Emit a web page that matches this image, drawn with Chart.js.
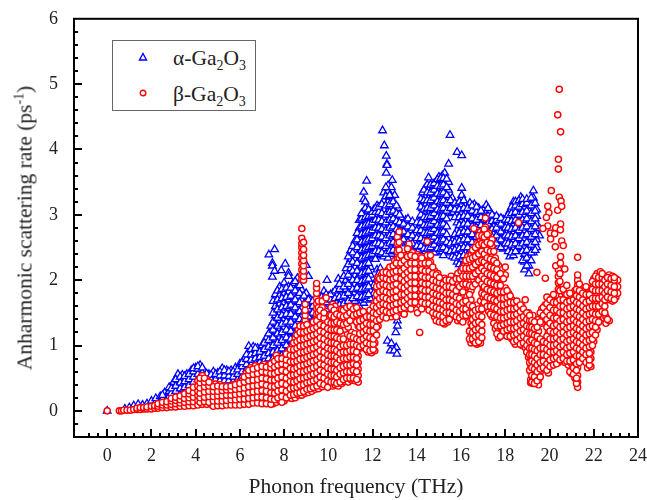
<!DOCTYPE html>
<html>
<head>
<meta charset="utf-8">
<title>Anharmonic scattering rate</title>
<script src="https://cdn.jsdelivr.net/npm/chart.js@4"></script>
<style>
  body { margin: 0; background: #fff; }
  #wrap { position: relative; width: 647px; height: 500px; font-family: "Liberation Serif", serif; color: #222; }
  #ytitle { position: absolute; left: 25px; top: 228px; transform: translate(-50%, -50%) rotate(-90deg); font-size: 21.5px; white-space: nowrap; }
  #ytitle sup { font-size: 14px; line-height: 0; }
  #legend { position: absolute; left: 112px; top: 40px; width: 142px; height: 69px; border: 1px solid #666; background: #fff; font-size: 21.5px; }
  #legend div { position: absolute; left: 60px; white-space: nowrap; }
  #legend sub { font-size: 14px; line-height: 0; }
  #legend svg { position: absolute; left: 24px; width: 12px; height: 12px; }
</style>
</head>
<body>
<div id="wrap">
  <canvas id="chart" width="647" height="500"></canvas>
  <div id="ytitle">Anharmonic scattering rate (ps<sup>-1</sup>)</div>
  <div id="legend">
    <svg style="top:10px" viewBox="0 0 12 12"><path d="M6 2.5 L9.5 9 L2.5 9 Z" fill="#fff" stroke="#0000ff" stroke-width="1.4"/></svg>
    <div style="top:5px">α-Ga<sub>2</sub>O<sub>3</sub></div>
    <svg style="top:46px" viewBox="0 0 12 12"><circle cx="6" cy="6" r="2.8" fill="#fff" stroke="#ff0000" stroke-width="1.4"/></svg>
    <div style="top:41px">β-Ga<sub>2</sub>O<sub>3</sub></div>
  </div>
</div>
<script>
// Data. Each row is [frequency, rate, rate, ...]
const alphaLow = [
  [0,0],[.8,.01,.03],[1,.02,.05],[1.2,.03,.08],[1.4,.04,.1],[1.6,.05,.09],[1.8,.06,.11],[2,.07,.1,.15],
  [2.2,.09,.14,.19],[2.4,.1,.16,.22],[2.6,.13,.2,.28],[2.8,.15,.22,.3,.36],[3,.18,.26,.35,.44],
  [3.2,.2,.3,.38,.47,.56],[3.4,.22,.3,.4,.48,.55],[3.6,.25,.33,.42,.5,.56],[3.8,.3,.38,.46,.54,.62],
  [4,.32,.42,.5,.58,.66],[4.2,.36,.45,.53,.62,.7],[4.4,.38,.46,.53,.6],[4.6,.36,.44,.5,.56],
  [4.8,.36,.44,.52,.6],[5,.34,.42,.5,.58],[5.2,.34,.42,.5,.58,.65],[5.4,.34,.42,.5,.57,.62],
  [5.6,.33,.4,.48,.56,.62],[5.8,.36,.44,.52,.6,.66],[6,.38,.46,.54,.62,.72]
];
const alphaMid = [
  [6.2,.45,.54,.62,.7,.8],[6.4,.5,.6,.7,.8,.9,.99],[6.6,.55,.65,.75,.85,.98],[6.8,.55,.66,.76,.86,.96],
  [7,.6,.7,.8,.9,1],[7.2,.62,.72,.82,.92,1.02,1.12],[7.4,.65,.75,.85,.95,1.1,1.22,1.3],
  [7.31,2.39],[7.57,2.47],[7.47,2.26,2.22,2.05],[7.57,2.14],[7.87,2.15],[8.05,2.25],[8.2,2.11,2.06],
  [7.6,.75,.86,.98,1.1,1.22,1.34,1.46,1.6,1.78],[7.8,.76,.88,1,1.13,1.26,1.38,1.5,1.64,1.77,1.9],
  [8,.8,.92,1.04,1.16,1.28,1.41,1.54,1.66,1.8,1.96],[8.2,.85,.97,1.08,1.2,1.33,1.45,1.57,1.7,1.82,1.9],
  [8.4,.95,1.07,1.2,1.32,1.44,1.56,1.68,1.82,1.95],[8.6,1,1.12,1.25,1.37,1.5,1.63,1.76,1.9,2.03],
  [8.8,1.1,1.22,1.34,1.46,1.58,1.7,1.85],[9,1.15,1.28,1.4,1.53,1.66,1.8,2.23],[9.1,2.06],
  [9.2,1.2,1.32,1.44,1.57,1.7],[9.4,1.22,1.34,1.46,1.56,1.65],[9.6,1.3,1.42,1.54,1.7],
  [9.8,1.3,1.42,1.55,1.68,1.83],[9.94,2],[10,1.35,1.47,1.6,1.75],[10.2,1.4,1.52,1.66,1.8],
  [10.4,1.42,1.54,1.66,1.78,1.88],[10.45,2.02],[10.6,1.45,1.58,1.7,1.84,2],[10.8,1.48,1.6,1.73,1.86,2,2.18],
  [11,1.5,1.63,1.76,1.9,2.04,2.18,2.32,2.45],[11.2,1.55,1.68,1.81,1.94,2.07,2.2,2.33,2.46,2.6]
];
const alphaHigh = [
  [11.4,1.6,1.72,1.85,1.96,2.08,2.2,2.32,2.44,2.56,2.69,2.8,2.92],
  [11.6,1.65,1.78,1.9,2.02,2.14,2.26,2.38,2.5,2.62,2.74,2.86,2.98,3.06,3.24,3.35],
  [11.73,1.7,1.82,1.95,2.07,2.19,2.31,2.43,2.55,2.67,2.79,2.91,3.03,3.12,3.52],
  [11.9,1.72,1.84,1.96,2.08,2.2,2.34,2.46,2.58,2.7,2.82,2.94,3.05],
  [12.05,1.8,1.92,2.36,2.48,2.6,2.72,2.84,2.96,3.08],
  [12.2,1.9,2.02,2.16,2.38,2.5,2.62,2.74,2.86,2.98,3.14],
  [12.35,2.02,2.18,2.4,2.52,2.64,2.76,2.88,3,3.1],
  [12.45,4.29],[12.53,4.06],[12.62,3.9,3.64],[12.65,3.78,3.76],[12.89,3.53],
  [12.5,2.36,2.48,2.6,2.72,2.84,2.96,3.08,3.22,3.34],[12.7,2.34,2.46,2.58,2.7,2.82,2.94,3.06,3.2,3.36,3.45],
  [12.85,2.4,2.52,2.64,2.76,2.88,3,3.12,3.28,3.42],[13,2.44,2.56,2.68,2.8,2.92,3.04,3.16,3.3],
  [13.15,2.5,2.62,2.74,2.86,2.98,3.1],[13.3,2.6,2.72,2.84,2.96],[13.5,2.56,2.68,2.8,2.92],
  [13.7,2.52,2.64,2.76,2.86],[13.9,2.5,2.6,2.72,2.84],[14.1,2.46,2.58,2.7,2.82,2.9],
  [14.25,2.5,2.62,2.74,2.86,2.98,3.1,3.2,3.34],[14.4,2.44,2.56,2.68,2.8,2.92,3.04,3.16,3.28,3.42],
  [14.53,2.42,2.54,2.66,2.78,2.9,3.02,3.14,3.26,3.38,3.57],[14.7,2.44,2.56,2.68,2.8,2.92,3.04,3.16,3.28,3.4],
  [14.85,2.48,2.6,2.72,2.84,2.96,3.08,3.2,3.32,3.44,3.5],[15,2.42,2.54,2.66,2.78,2.9,3.02,3.14,3.26,3.38,3.5,3.58],
  [15.15,2.44,2.56,2.68,2.8,2.92,3.04,3.16,3.28,3.4,3.52,3.6],[15.26,2.5,2.62,2.74,2.86,2.98,3.1,3.22,3.34,3.46,3.64],
  [15.44,2.42,2.54,2.64,3.02,3.14,3.26,3.38,3.5,3.78],[15.5,4.22],[15.6,2.36,2.48,2.6,3.04,3.16,3.26],
  [15.82,2.28,2.4,2.52,2.64,2.76,2.88,3,3.12,3.96],[16.03,2.2,2.32,2.44,2.56,2.68,2.8,2.92,3.04,3.16,3.3,3.41,3.91],
  [16.2,2.3,2.42,2.54,2.66,2.78,2.9,3.02,3.14],[16.4,2.45,2.57,2.69,2.81,2.93,3.05,3.18],
  [16.6,2.7,2.82,2.94,3.06,3.16],[16.8,2.76,2.88,3,3.1],[17,2.9,3.02,3.08],[17.14,2.92,3.04,3.15],
  [17.3,2.62,2.74,2.86,2.98,3.06],[17.5,2.6,2.72,2.84,2.96],[17.7,2.52,2.64,2.76,2.88,2.94],
  [17.9,2.48,2.6,2.72,2.84,2.93],[18.05,2.5,2.62,2.74,2.86,2.96],[18.2,2.36,2.48,2.6,2.72,2.84,2.96,3.06],
  [18.37,2.38,2.5,2.62,2.74,2.86,2.98,3.08,3.2],[18.55,2.48,2.6,2.72,2.84,2.96,3.08,3.18],
  [18.7,2.5,2.62,2.74,2.86,2.98,3.1,3.2,3.27],[18.87,2.16,2.28,2.4,2.52,2.64,2.76,2.88,3,3.12],
  [19.07,2.1,2.22,2.34,2.46,2.58,2.7,2.82,2.94,3.06,3.18],[19.27,2.42,2.54,2.66,2.78,2.9,3.02,3.14,3.26,3.37],
  [19.42,2.5,2.62,2.74,2.86,2.98,3.08],[19.55,2.68,2.79]
];
const alphaBetween = [
  [2.5,.12,.18,.24],[2.9,.2,.27,.34],[3.1,.22,.3,.38,.48],[3.3,.25,.34,.43,.52],[3.5,.27,.36,.45,.53],[3.7,.3,.39,.48,.56],
  [3.9,.36,.44,.52,.6,.65],[4.1,.4,.48,.56,.64,.68],[4.3,.5,.58,.66],[4.5,.44,.5,.57],[4.7,.42,.48,.55],[4.9,.4,.48,.56],
  [5.1,.38,.46,.54,.6],[5.3,.38,.46,.54,.62],[5.5,.38,.46,.53,.6],[5.7,.38,.45,.52,.6],[5.9,.42,.48,.56,.63],
  [6.1,.46,.53,.6,.68,.74],[6.3,.55,.63,.71,.79,.86],[6.5,.62,.7,.78,.86,.94],[6.7,.66,.72,.8,.88,.96],[6.9,.66,.74,.82,.9],
  [7.1,.68,.76,.84,.94,1.04],[7.3,.72,.8,.88,.98,1.08,1.18],[7.5,.8,.9,1,1.12,1.24,1.36,1.5,1.68],
  [7.7,.82,.92,1.04,1.18,1.3,1.42,1.55,1.7,1.84],[7.9,.85,.95,1.08,1.2,1.33,1.46,1.58,1.72,1.86],
  [8.1,.9,1,1.12,1.24,1.36,1.48,1.6,1.74,1.88],[8.3,.98,1.1,1.22,1.36,1.48,1.62,1.76,1.88],[8.5,1.06,1.18,1.3,1.44,1.58,1.7,1.84,1.98],
  [8.7,1.28,1.4,1.52,1.66,1.8,1.92],[8.9,1.4,1.52,1.64,1.76],[9.1,1.44,1.56,1.7],[9.3,1.5,1.6,1.68],[9.5,1.48,1.6,1.66],
  [9.7,1.5,1.62,1.74],[9.9,1.55,1.66,1.78],[10.1,1.6,1.7,1.78],[10.3,1.6,1.72,1.84],[10.5,1.62,1.74,1.86,1.94],
  [10.7,1.64,1.76,1.9,2.06],[10.9,1.68,1.8,1.94,2.08,2.24,2.36],[11.1,1.72,1.86,2,2.14,2.28,2.42,2.52],
  [11.3,1.75,1.88,2,2.14,2.26,2.38,2.5,2.62,2.72],[11.5,1.74,1.86,1.98,2.1,2.22,2.34,2.46,2.58,2.7,2.82,2.94,3.02],
  [11.67,1.76,1.88,2,2.12,2.24,2.36,2.48,2.6,2.72,2.84,2.96,3.1,3.2],[11.82,1.78,1.9,2.02,2.14,2.26,2.38,2.5,2.62,2.74,2.86,2.98,3.08],
  [11.98,2.4,2.52,2.64,2.76,2.88,3,3.04],[12.13,2.32,2.44,2.56,2.68,2.8,2.92,3.04,3.1],[12.28,2.1,2.44,2.56,2.68,2.8,2.92,3.04,3.12],
  [12.42,2.42,2.54,2.66,2.78,2.9,3.02,3.16],[12.6,2.4,2.52,2.64,2.76,2.88,3,3.14,3.28,3.42],[12.77,2.44,2.56,2.68,2.8,2.92,3.04,3.16,3.3],
  [12.93,2.46,2.58,2.7,2.82,2.94,3.06,3.2],[13.08,2.54,2.66,2.78,2.9,3.02,3.14],[13.22,2.64,2.76,2.88,3],[13.4,2.62,2.74,2.86],
  [13.6,2.58,2.7,2.82,2.94],[13.8,2.56,2.68,2.8,2.9],[14,2.52,2.64,2.76,2.88],[14.18,2.52,2.64,2.76,2.88,3,3.12,3.24],
  [14.32,2.48,2.6,2.72,2.84,2.96,3.08,3.22,3.38],[14.47,2.48,2.6,2.72,2.84,2.96,3.1,3.22,3.34,3.46],[14.62,2.5,2.62,2.74,2.86,2.98,3.1,3.22,3.34,3.46],
  [14.78,2.42,2.54,2.66,2.78,2.9,3.02,3.14,3.26,3.38,3.48],[14.93,2.48,2.6,2.72,2.84,2.96,3.08,3.2,3.32,3.44,3.54],
  [15.08,2.48,2.6,2.72,2.84,2.96,3.08,3.2,3.32,3.44,3.56],[15.2,2.38,2.5,2.62,2.74,2.86,2.98,3.1,3.22,3.34,3.46,3.56],
  [15.35,2.46,2.58,2.7,2.82,2.94,3.06,3.18,3.3,3.42,3.55],[15.52,2.44,2.56,3.1,3.22],[15.72,2.34,2.46,2.58,2.7,2.96,3.08,3.18],
  [15.92,2.24,2.36,2.48,2.6,2.72,2.84,2.96,3.08,3.2],[16.12,2.26,2.38,2.5,2.62,2.74,2.86,2.98,3.1,3.22],
  [16.3,2.38,2.5,2.62,2.74,2.86,2.98,3.1],[16.5,2.58,2.7,2.82,2.94,3.06,3.14],[16.7,2.66,2.8,2.92,3.04,3.12],[16.9,2.84,2.96,3.06],
  [17.22,2.74,2.86,2.98,3.1],[17.4,2.66,2.78,2.9,3],[17.6,2.56,2.68,2.8,2.92,2.98],[17.8,2.5,2.62,2.74,2.86,2.95],
  [18,2.56,2.68,2.8,2.92],[18.13,2.44,2.56,2.68,2.8,2.92,3],[18.28,2.42,2.54,2.66,2.78,2.9,3.02,3.12],[18.46,2.44,2.56,2.68,2.8,2.92,3.04,3.14,3.2],
  [18.62,2.52,2.64,2.76,2.88,3,3.12,3.22],[18.78,2.3,2.44,2.56,2.68,2.8,2.92,3.04,3.16,3.24],[18.97,2.22,2.34,2.46,2.58,2.7,2.82,2.94,3.06,3.18,3.24],
  [19.17,2.3,2.42,2.54,2.66,2.78,2.9,3.02,3.14,3.26],[19.35,2.46,2.58,2.7,2.82,2.94,3.06,3.18]
];
const alphaIsland = [
  [13.07,1.45,.97],[13.12,1.38,1.3],[13.05,1.2],[12.67,1.07],[12.85,1.03],[12.8,.92],[12.97,.92],[13.1,.87]
];
const betaLow = [
  [0,0],[.55,0],[.65,0],[.75,.01],[.9,.01],[1.05,.01],[1.2,.02],[1.35,.02,.04],[1.5,.02,.05],[1.65,.03,.05],
  [1.8,.03,.06],[2,.03,.07],[2.15,.04,.08],[2.3,.04,.07,.11],[2.5,.05,.09,.13],[2.7,.05,.09,.14],
  [2.9,.06,.1,.15,.19],[3.1,.06,.11,.16,.21],[3.3,.07,.12,.17,.23],[3.5,.07,.13,.19,.26],[3.7,.08,.14,.2,.26,.31],
  [3.9,.08,.14,.21,.28,.36],[4.1,.09,.16,.23,.3,.38,.46],[4.3,.1,.17,.24,.32,.4,.47,.54],[4.5,.1,.17,.25,.33,.41,.48],
  [4.7,.1,.18,.26,.33,.42],[4.9,.11,.18,.26,.34,.41],[5.1,.11,.19,.27,.35,.4],[5.3,.11,.19,.27,.34,.38],
  [5.5,.12,.2,.28,.36],[5.7,.12,.2,.28,.36,.4],[5.9,.13,.21,.29,.37,.43],[6.1,.14,.22,.3,.38,.46],
  [6.3,.14,.23,.32,.41,.5,.58],[6.5,.15,.24,.33,.42,.51,.6,.66],[6.7,.16,.25,.34,.43,.52,.61,.69],
  [6.9,.17,.26,.35,.44,.53,.62,.68],[7.1,.16,.26,.36,.46,.56,.65,.71],[7.3,.14,.24,.34,.44,.54,.64,.7],
  [7.5,.11,.2,.3,.4,.5,.6,.7,.74],[7.65,.13,.23,.33,.43,.53,.63,.72,.85,.78],[7.8,.16,.26,.36,.46,.56,.66,.74]
];
const betaMid = [
  [8,.15,.25,.35,.45,.55,.65,.75,.82],[8.2,.2,.3,.4,.5,.6,.7,.8,.9],[8.35,.19,.29,.39,.49,.59,.69,.79,.89,.98],
  [8.5,.2,.3,.4,.5,.6,.7,.8,.9,1,1.1],[8.65,.24,.34,.44,.54,.64,.74,.84,.94,1.04,1.14,1.24],
  [8.8,.24,.34,.44,.54,.64,.74,.84,.94,1.04,1.14,1.26,2.01,2.08,2.16,2.25,2.34,2.42,2.5,2.56,2.64,2.79],
  [8.88,2,2.06,2.14,2.22,2.3,2.38,2.47,2.58],[8.95,.27,.37,.47,.57,.67,.77,.87,.97,1.07,1.17,1.27,1.38,1.46,1.54,1.63],
  [9.1,.28,.38,.48,.58,.68,.78,.88,.98,1.08,1.18,1.28],[9.25,.3,.4,.5,.6,.7,.8,.9,1,1.1,1.2,1.3],
  [9.4,.33,.43,.53,.63,.73,.83,.93,1.03,1.13,1.23,1.33],[9.47,1.4,1.48,1.56,1.64,1.72,1.8,1.88,1.95],
  [9.55,.34,.44,.54,.64,.74,.84,.94,1.04,1.14,1.24,1.34,1.42,1.5,1.58,1.68],[9.72,.37,.47,.57,.67,.77,.87,.97,1.07,1.17,1.27,1.37,1.47,1.58,1.68],
  [9.9,.42,.52,.62,.72,.82,.92,1.02,1.12,1.22,1.3,1.73],[10.05,.4,.5,.6,.7,.8,.9,1,1.1,1.2,1.3,1.42],
  [10.2,.38,.48,.58,.68,.78,.88,.98,1.08,1.18,1.28,1.38,1.48,1.56,1.63],[10.3,.4,.5,.6,.7,.8,.9,1,1.1,1.2,1.3,1.4,1.5,1.6],
  [10.45,.38,.48,.58,.68,.78,.88,.98,1.08,1.18,1.3,1.42,1.54],[10.6,.42,.52,.62,.72,.84,.94,1.04,1.16,1.28,1.4,1.55],
  [10.75,.45,.55,.65,.75,.85,.95,1.05,1.25,1.38,1.5],[10.9,.44,.54,.64,.74,.84,.94,1.06,1.28,1.4,1.53],
  [11.05,.47,.57,.67,.77,.87,.97,1.08,1.2,1.44,1.58],[11.2,.46,.56,.66,.76,.86,.96,1.06,1.18,1.4,1.53],
  [11.35,.44,.54,.64,.74,.84,.94,1.04,1.3,1.44,1.54],[11.5,1.02,1.12,1.22,1.32,1.42,1.5],
  [11.65,.96,1.06,1.16,1.26,1.36,1.46],[11.8,.9,1,1.1,1.2,1.3,1.4,1.5],[11.95,.89,.98,1.08,1.18,1.28,1.38,1.52],
  [12.1,.92,1.04,1.14,1.24,1.34,1.46,1.56,1.66],[12.25,1.3,1.42,1.52,1.62,1.72,1.84,1.95,2.04]
];
const betaHigh = [
  [12.4,1.48,1.58,1.68,1.78,1.88,1.98,2.08],[12.55,1.5,1.6,1.7,1.8,1.9,2,2.1],[12.7,1.46,1.56,1.66,1.76,1.86,1.96,2.06,2.16],
  [12.85,1.44,1.54,1.64,1.74,1.84,1.94,2.04,2.14],[13,1.48,1.58,1.68,1.78,1.88,1.98,2.08,2.18,2.3],
  [13.12,1.5,1.6,1.7,1.8,1.9,2,2.1,2.2,2.32,2.44,2.56,2.66],[13.2,1.5,1.62,1.74,1.86,1.98,2.1,2.22,2.34,2.46,2.58,2.74],
  [13.35,1.52,1.62,1.72,1.82,1.92,2.02,2.12,2.22,2.32],[13.5,1.56,1.66,1.76,1.86,1.96,2.06,2.16,2.28,2.38],
  [13.65,1.6,1.7,1.8,1.9,2,2.1,2.2,2.32,2.44,2.55],[13.8,1.62,1.72,1.82,1.92,2.02,2.12,2.22,2.32,2.42],
  [14.03,1.5,1.68,1.78,1.88,1.98,2.08,2.18,2.28,2.39],[14.13,1.2,1.62,1.74,1.84,1.94,2.04,2.14,2.24,2.36],
  [14.3,1.6,1.7,1.8,1.9,2,2.1,2.2,2.3],[14.47,1.6,1.7,1.8,1.9,2,2.1,2.2,2.38,2.59],
  [14.62,1.56,1.66,1.76,1.86,1.96,2.06,2.16,2.28,2.38],[14.8,1.44,1.54,1.64,1.74,1.84,1.94,2.04,2.14],
  [14.95,1.42,1.52,1.62,1.72,1.82,1.92,2,2.1],[15.1,1.38,1.48,1.58,1.68,1.78,1.88,1.98],
  [15.25,1.33,1.43,1.53,1.63,1.73,1.83,1.93,2.03],[15.4,1.36,1.46,1.56,1.66,1.76,1.86,1.96],
  [15.55,1.44,1.54,1.64,1.74,1.84,1.94,2.06],[15.7,1.5,1.6,1.7,1.8,1.9,2],[15.85,1.38,1.48,1.58,1.7,1.84,1.96,2.1],
  [16,1.38,1.48,1.58,1.76,1.88,2,2.14],[16.15,1.42,1.52,1.62,1.88,2,2.12,2.22],[16.3,1.56,1.66,1.9,2,2.12,2.24,2.36],
  [16.45,1.04,1.14,1.24,1.34,1.44,1.54,1.7,1.84,2,2.12,2.26,2.38],[16.58,1.06,1.16,1.26,1.36,1.46,1.56,2,2.14,2.28,2.42,2.79],
  [16.72,1.02,1.12,1.22,1.32,1.42,1.52,1.62,2.04,2.16,2.3,2.42,2.56],[16.88,1.04,1.14,1.24,1.34,1.44,1.54,1.68,1.98,2.1,2.24,2.36,2.5,2.6,2.74],
  [17,1.62,1.74,1.88,2,2.12,2.24,2.36,2.5,2.62,2.72],[17.1,1.7,1.82,1.94,2.06,2.18,2.3,2.42,2.56,2.68,2.81,2.95],
  [17.25,1.52,1.64,1.76,1.88,2,2.12,2.24,2.36,2.48,2.6,2.72],[17.4,1.44,1.56,1.68,1.8,1.92,2.04,2.16,2.28,2.4,2.52,2.62],
  [17.55,1.26,1.38,1.5,1.62,1.74,1.86,1.98,2.1,2.22,2.34],[17.7,1.12,1.24,1.36,1.48,1.6,1.72,1.84,2.03,2.12,2.22],
  [17.85,1.16,1.26,1.36,1.46,1.56,1.66,1.76,1.86,2.06,2.16],[18,1.18,1.28,1.38,1.48,1.58,1.68,1.78,1.88,2.08,2.2],
  [18.15,1.2,1.3,1.4,1.5,1.6,1.7,1.8],[18.3,1.1,1.2,1.3,1.4,1.5,1.6,1.7],[18.45,1.02,1.12,1.22,1.32,1.42,1.52,1.62],
  [18.6,1.06,1.16,1.26,1.36,1.46,1.56],[18.75,1,1.1,1.2,1.3,1.4,1.52,1.6],[18.9,.97,1.07,1.17,1.27,1.37,1.47,1.7],
  [19.05,.82,.92,1.02,1.12,1.22,1.32,1.42,1.5],[19.15,.43,.48,.6,.7,.82,.92,1.04,1.14,1.24,1.34],
  [19.25,.42,.5,.6,.7,.8,.9,1,1.1,1.2,1.3,1.46],[19.38,.45,.55,.65,.75,.85,.95,1.05,1.15,1.25,1.35],
  [19.5,.4,.48,.58,.68,.78,.88,.98,1.1,1.22,1.4],[19.65,.62,.72,.82,.92,1.02,1.34,1.46,1.56],
  [19.8,.68,.78,.88,.98,1.08,1.42,1.52,1.62],[19.95,.58,.68,.78,.88,.98,1.08,1.2,1.32,1.44,1.56,1.68],
  [20.1,.72,.82,.92,1.02,1.12,1.24,1.36,1.48,1.6,1.72],[20.25,.76,.86,.96,1.06,1.16,1.26,1.38,1.5,1.62,1.76],
  [20.4,.74,.84,.94,1.04,1.14,1.24,1.34,1.46,1.56,1.66,1.76,1.86,1.96,2.06,2.16],
  [20.55,.84,.94,1.04,1.14,1.24,1.34,1.44,1.54,1.64,1.76],[20.7,.74,.88,.98,1.08,1.18,1.28,1.38,1.48,1.58,1.68,1.8],
  [20.85,.7,.8,.9,1,1.1,1.2,1.3,1.4,1.5,1.6,1.72],[21,.57,.72,.84,.94,1.04,1.14,1.24,1.34,1.44,1.54,1.64,1.74],
  [21.15,.5,.6,.7,.82,.92,1.02,1.12,1.22,1.32,1.42,1.52,1.62,1.72,1.84],
  [21.27,.36,.44,.54,.66,.76,.9,1,1.1,1.2,1.3,1.4,1.5,1.6,1.7,1.82,1.92,2,2.08],
  [21.42,.78,.88,.98,1.08,1.18,1.28,1.38,1.48,1.58,1.68,1.78,1.88],[21.57,.82,.92,1.02,1.12,1.22,1.32,1.42,1.52,1.62,1.72,1.84],
  [21.72,.66,.74,.84,.94,1.04,1.14,1.24,1.34,1.44,1.54,1.64,1.76,1.88],[21.87,.68,.8,.9,1,1.1,1.2,1.3,1.4,1.5,1.6,1.7,1.82],
  [22,1.06,1.16,1.26,1.36,1.46,1.56,1.66,1.78,1.92,2.02],[22.15,1.24,1.34,1.44,1.54,1.66,1.78,1.88,1.98,2.1],
  [22.3,1.46,1.56,1.68,1.8,1.9,2,2.13],[22.45,1.42,1.52,1.64,1.76,1.86,1.96,2.06],[22.55,1.34,1.44,1.72,1.82,1.92,2.02],
  [22.7,1.38,1.7,1.8,1.9,2,2.08],[22.85,1.68,1.78,1.88,1.98,2.06],[23,1.74,1.84,1.94,2.02],[23.08,1.8,1.9,2]
];
const betaBetween = [
  [4.2,.13,.2,.27,.35,.43,.5],[4.4,.14,.21,.29,.37,.44,.5],[4.6,.13,.22,.3,.38,.44],[4.8,.07,.15,.22,.3,.37],[5,.08,.15,.23,.3,.38],
  [5.2,.08,.15,.23,.31,.37],[5.4,.09,.16,.24,.32,.37],[5.6,.09,.17,.24,.32,.38],[5.8,.09,.17,.25,.33,.4],[6,.09,.18,.26,.34,.42],
  [6.2,.1,.18,.27,.35,.44,.52],[6.4,.1,.19,.28,.37,.46,.55,.62],[6.6,.12,.2,.29,.38,.47,.56,.64],[6.8,.12,.21,.3,.39,.48,.57,.66],
  [7,.11,.21,.31,.41,.5,.6,.68],[7.2,.11,.2,.3,.39,.49,.59,.67],[7.4,.1,.18,.28,.37,.47,.57,.66,.72],[7.57,.17,.27,.37,.47,.57,.67,.76],
  [7.72,.2,.3,.4,.5,.6,.7,.8],[7.9,.13,.22,.32,.42,.52,.62,.72,.8],[8.1,.2,.3,.4,.5,.6,.7,.78,.87],[8.28,.24,.34,.45,.54,.65,.75,.85,.94],
  [8.43,.25,.35,.44,.55,.64,.75,.84,.94,1.04],[8.58,.27,.36,.46,.56,.66,.76,.86,.96,1.06,1.16],[8.72,.28,.39,.49,.6,.69,.79,.89,.99,1.09,1.2,1.3],
  [8.88,.3,.4,.5,.6,.7,.8,.9,1,1.1,1.2,1.3],[9.03,.33,.43,.52,.62,.72,.82,.92,1.02,1.12,1.22,1.32],[9.18,.34,.44,.54,.64,.74,.84,.94,1.04,1.14,1.24],
  [9.32,.36,.46,.56,.66,.76,.86,.96,1.06,1.16,1.26,1.36],[9.48,.38,.48,.58,.68,.78,.88,.98,1.08,1.18,1.28,1.38],[9.63,.42,.52,.62,.72,.82,.92,1.02,1.12,1.22,1.32,1.44,1.54],
  [9.8,.4,.5,.6,.7,.8,.9,1,1.1,1.2,1.3,1.42,1.5],[9.97,.36,.46,.56,.66,.76,.86,.96,1.06,1.16,1.26,1.36],[10.12,.44,.54,.64,.74,.84,.94,1.04,1.14,1.24,1.34,1.46,1.58],
  [10.26,.44,.54,.64,.74,.84,.94,1.04,1.14,1.24,1.34,1.44,1.54],[10.38,.42,.52,.62,.72,.82,.92,1.02,1.12,1.24,1.36,1.48],[10.53,.44,.56,.66,.78,.88,.98,1.1,1.22,1.34,1.46],
  [10.68,.48,.58,.68,.8,.9,1,1.1,1.32,1.44,1.54],[10.83,.5,.6,.7,.8,.9,1,1.34,1.46,1.58],[10.98,.5,.6,.7,.82,.92,1.02,1.14,1.38,1.5,1.6],
  [11.13,.5,.62,.72,.82,.92,1.02,1.12,1.46,1.56],[11.28,.48,.6,.7,.8,.9,1,1.1,1.36,1.48,1.58],[11.42,.98,1.08,1.18,1.28,1.38,1.5],
  [11.58,1,1.1,1.2,1.3,1.4,1.52],[11.72,.94,1.04,1.14,1.24,1.34,1.44],[11.88,.92,1.02,1.12,1.22,1.32,1.44,1.54],[12.03,.94,1.02,1.1,1.22,1.32,1.42,1.5,1.6],
  [12.18,1.16,1.28,1.38,1.48,1.58,1.68,1.78,1.9],[12.32,1.4,1.52,1.62,1.72,1.82,1.92,2.02],[12.47,1.44,1.54,1.64,1.74,1.84,1.94,2.04,2.12],
  [12.62,1.42,1.52,1.62,1.72,1.82,1.92,2.02,2.12],[12.78,1.5,1.6,1.7,1.8,1.9,2,2.1,2.2],[12.93,1.52,1.62,1.72,1.82,1.92,2.02,2.12,2.22],
  [13.07,1.44,1.54,1.64,1.74,1.84,1.94,2.04,2.14,2.26],[13.28,1.56,1.66,1.78,1.9,2.02,2.14,2.26,2.38],[13.43,1.48,1.58,1.68,1.78,1.88,1.98,2.08,2.18,2.3],
  [13.58,1.62,1.72,1.82,1.92,2.02,2.12,2.24,2.36,2.48],[13.73,1.56,1.66,1.76,1.86,1.96,2.06,2.16,2.26,2.38],[13.92,1.66,1.76,1.86,1.96,2.06,2.16,2.26,2.36],
  [14.22,1.56,1.66,1.76,1.86,1.96,2.06,2.16,2.26,2.34],[14.38,1.64,1.74,1.84,1.94,2.04,2.14,2.26],[14.55,1.54,1.64,1.74,1.84,1.94,2.04,2.14,2.26],
  [14.72,1.5,1.6,1.7,1.8,1.9,2,2.1,2.2],[14.88,1.38,1.48,1.58,1.68,1.78,1.88,1.98,2.08],[15.02,1.36,1.46,1.56,1.66,1.76,1.86,1.96,2.04],
  [15.18,1.35,1.44,1.54,1.64,1.74,1.84,1.94],[15.32,1.38,1.5,1.6,1.7,1.8,1.9,2],[15.47,1.4,1.5,1.6,1.7,1.8,1.9,2],
  [15.62,1.48,1.58,1.68,1.78,1.88,1.98],[15.78,1.44,1.54,1.64,1.74,1.84,2.02],[15.93,1.42,1.52,1.62,1.72,1.9,2.02],
  [16.08,1.36,1.46,1.56,1.66,1.82,1.94,2.06,2.18],[16.22,1.46,1.56,1.68,1.94,2.06,2.18,2.3],[16.38,1.1,1.22,1.5,1.62,1.78,1.92,2.06,2.18,2.32],
  [16.52,1.1,1.2,1.3,1.4,1.5,1.6,1.9,2.06,2.2,2.34,2.46],[16.65,1.04,1.14,1.24,1.34,1.44,1.54,1.94,2.1,2.24,2.36,2.5],[16.8,1.06,1.16,1.26,1.36,1.46,1.56,2,2.14,2.28,2.4,2.54,2.68],
  [16.94,1.12,1.22,1.32,1.44,1.56,1.8,1.94,2.06,2.18,2.3,2.44,2.56,2.68],[17.05,1.66,1.78,1.9,2.02,2.14,2.28,2.4,2.54,2.66,2.78],[17.18,1.6,1.74,1.86,1.98,2.1,2.22,2.34,2.46,2.58,2.7],
  [17.33,1.48,1.6,1.72,1.84,1.96,2.08,2.2,2.32,2.44,2.56],[17.48,1.34,1.46,1.58,1.7,1.82,1.94,2.06,2.18,2.3,2.44],[17.62,1.18,1.3,1.44,1.56,1.68,1.8,1.92,2.04,2.16,2.26],
  [17.78,1.14,1.3,1.42,1.52,1.62,1.72,1.82,1.92,2.1],[17.92,1.22,1.32,1.42,1.52,1.62,1.72,1.82,2.02],[18.08,1.14,1.24,1.34,1.44,1.54,1.64,1.74,1.84],
  [18.22,1.14,1.26,1.36,1.46,1.56,1.66,1.76],[18.38,1.06,1.16,1.26,1.36,1.46,1.56,1.66],[18.52,1.08,1.18,1.28,1.38,1.48,1.58,1.68],
  [18.68,1.02,1.12,1.22,1.32,1.42,1.52,1.62],[18.82,1.04,1.14,1.24,1.34,1.44,1.56],[18.97,.9,1,1.1,1.2,1.3,1.4,1.5],
  [19.1,.62,.74,.86,.96,1.06,1.18,1.28,1.38,1.46],[19.2,.44,.54,.66,.76,.86,.96,1.08,1.18,1.28,1.38],[19.32,.42,.52,.64,.74,.84,.94,1.04,1.16,1.26,1.36],
  [19.44,.46,.6,.7,.8,.92,1.02,1.14,1.28],[19.58,.52,.64,.74,.86,.96,1.1,1.36,1.5],[19.72,.66,.76,.86,.96,1.06,1.46,1.58],
  [19.88,.62,.72,.84,.94,1.04,1.14,1.28,1.4,1.52,1.64,1.74],[20.02,.68,.78,.9,1,1.1,1.22,1.34,1.46,1.58,1.7],[20.18,.7,.8,.9,1,1.1,1.2,1.3,1.42,1.54,1.66,1.78],
  [20.32,.72,.82,.92,1.02,1.12,1.22,1.32,1.42,1.54,1.66],[20.47,.78,.88,.98,1.08,1.18,1.28,1.38,1.5,1.6,1.7,1.84,1.98,2.1],[20.62,.8,.9,1,1.1,1.2,1.3,1.4,1.5,1.6,1.7,1.86],
  [20.78,.76,.86,.96,1.06,1.16,1.26,1.36,1.46,1.56,1.66,1.78,1.92],[20.92,.6,.76,.88,.98,1.08,1.18,1.28,1.38,1.48,1.58,1.68,1.8],[21.08,.56,.66,.78,.9,1,1.1,1.2,1.3,1.4,1.5,1.6,1.7],
  [21.22,.42,.5,.62,.72,.84,.96,1.06,1.16,1.26,1.36,1.46,1.56,1.66,1.76,1.86],[21.35,.74,.84,.94,1.04,1.14,1.24,1.34,1.44,1.54,1.64,1.74,1.84,1.94],[21.5,.8,.9,1,1.1,1.2,1.3,1.4,1.5,1.6,1.7,1.8],
  [21.65,.74,.86,.96,1.06,1.16,1.26,1.36,1.46,1.56,1.66,1.78,1.9],[21.8,.7,.78,.88,.98,1.08,1.18,1.28,1.38,1.48,1.58,1.68,1.78],[21.94,1,1.1,1.2,1.3,1.4,1.5,1.6,1.72,1.86,1.98],
  [22.08,1.16,1.28,1.38,1.48,1.6,1.72,1.84,1.94,2.06],[22.22,1.36,1.48,1.6,1.72,1.84,1.94,2.04],[22.38,1.52,1.64,1.74,1.84,1.94,2.04,2.1],
  [22.5,1.5,1.6,1.7,1.8,1.9,2],[22.62,1.4,1.74,1.84,1.94,2.04],[22.78,1.72,1.82,1.92,2.02],[22.93,1.7,1.8,1.9,2,2.04]
];
const betaSpike = [
  [20.44,4.92,3.27],[20.37,4.53,3.07],[20.5,4.27,2.86,2.36],[20.4,3.85,3.7],[20.08,3.37],[20.52,3.21],[19.92,3.13,2.83],
  [20.55,3.13,2.6],[19.97,3.03],[19.86,2.96],[19.7,2.79],[20.28,2.8,2.22],[20.49,2.77,2.26],[20.04,2.72],[20.23,2.71],
  [20.05,2.63],[20.62,2.53],[20.26,2.51],[21.27,2.35],[20.69,2.17],[19.43,2.12],[19.81,2.03],[18.6,2.88]
];

const xTicks = [0, 2, 4, 6, 8, 10, 12, 14, 16, 18, 20, 22, 24];
const yTicks = [0, 1, 2, 3, 4, 5, 6];

function toPoints(rows) {
    const pts = [];
    rows.forEach(row => row.slice(1).forEach(rate => pts.push({ x: row[0], y: rate })));
    return pts;
}

// Ticks point inwards, so they are drawn from the scales after the frame
const frameTicks = {
    id: 'frameTicks',
    afterDraw(chart) {
        const { ctx, chartArea: a, scales } = chart;
        ctx.save();
        ctx.strokeStyle = '#000';
        ctx.lineWidth = 2;
        ctx.strokeRect(a.left, a.top, a.right - a.left, a.bottom - a.top);
        scales.x.ticks.forEach(t => {
            const px = Math.round(scales.x.getPixelForValue(t.value));
            if (px <= a.left + 1 || px >= a.right - 1) return;
            const len = xTicks.includes(Math.round(t.value * 10) / 10) ? 8 : 4;
            ctx.beginPath(); ctx.moveTo(px, a.bottom); ctx.lineTo(px, a.bottom - len); ctx.stroke();
        });
        scales.y.ticks.forEach(t => {
            const py = Math.round(scales.y.getPixelForValue(t.value));
            if (py <= a.top + 1 || py >= a.bottom - 1) return;
            const len = yTicks.includes(Math.round(t.value * 10) / 10) ? 8 : 4;
            ctx.beginPath(); ctx.moveTo(a.left, py); ctx.lineTo(a.left + len, py); ctx.stroke();
        });
        ctx.restore();
    }
};

const tickFont = { family: '"Liberation Serif"', size: 18 };

new Chart(document.getElementById('chart'), {
    type: 'scatter',
    data: {
        datasets: [
            {
                label: 'α-Ga2O3',
                data: toPoints([...alphaLow, ...alphaMid, ...alphaHigh, ...alphaBetween, ...alphaIsland]),
                pointStyle: 'triangle',
                pointRadius: 4.4,
                pointBorderWidth: 1.3,
                pointBorderColor: '#0000ff',
                pointBackgroundColor: '#fff',
                order: 2
            },
            {
                label: 'β-Ga2O3',
                data: toPoints([...betaLow, ...betaMid, ...betaHigh, ...betaBetween, ...betaSpike]),
                pointStyle: 'circle',
                pointRadius: 3.1,
                pointBorderWidth: 1.4,
                pointBorderColor: '#ff0000',
                pointBackgroundColor: '#fff',
                order: 1
            }
        ]
    },
    options: {
        responsive: false,
        animation: false,
        layout: { padding: { top: 15, right: 7, left: 0, bottom: 0 } },
        plugins: { legend: { display: false }, tooltip: { enabled: false } },
        scales: {
            x: {
                type: 'linear',
                min: -1.5,
                max: 24,
                afterFit: s => { s.height = 63; },
                grid: { display: false },
                border: { display: false },
                ticks: {
                    stepSize: 0.4,
                    autoSkip: false,
                    maxRotation: 0,
                    padding: 0,
                    color: '#222',
                    font: tickFont,
                    callback: v => xTicks.includes(Math.round(v * 10) / 10) ? String(Math.round(v)) : ''
                },
                title: {
                    display: true,
                    text: 'Phonon frequency (THz)',
                    color: '#222',
                    font: { family: '"Liberation Serif"', size: 21.5 },
                    padding: { top: 0, bottom: 0 }
                }
            },
            y: {
                type: 'linear',
                min: -0.4,
                max: 6,
                afterFit: s => { s.width = 74; },
                grid: { display: false },
                border: { display: false },
                ticks: {
                    stepSize: 0.2,
                    autoSkip: false,
                    padding: 8,
                    color: '#222',
                    font: tickFont,
                    callback: v => yTicks.includes(Math.round(v * 10) / 10) ? String(Math.round(v)) : ''
                }
            }
        }
    },
    plugins: [frameTicks]
});
</script>
</body>
</html>
